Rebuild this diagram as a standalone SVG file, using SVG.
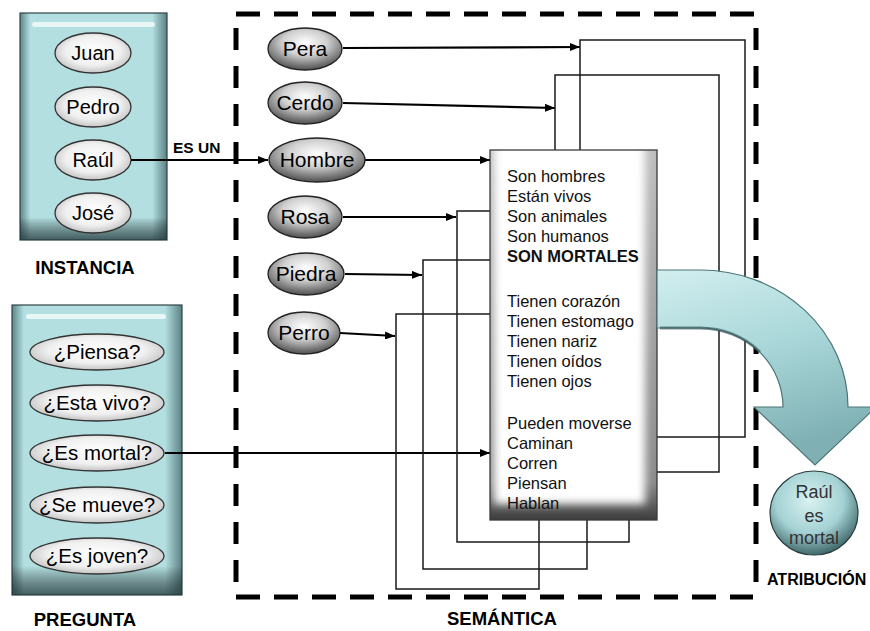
<svg xmlns="http://www.w3.org/2000/svg" width="870" height="631" viewBox="0 0 870 631">
<defs>
<style>
.lbl{font-family:"Liberation Sans",Arial,sans-serif;fill:#000}
.title{font-family:"Liberation Sans",Arial,sans-serif;font-weight:bold;fill:#000}
.conn{fill:none;stroke:#1a1a1a;stroke-width:1.5}
.arr{fill:none;stroke:#000;stroke-width:2.2}
.bl{fill:url(#blueH);stroke:#2e4446;stroke-width:1.2}
.wel{fill:url(#wEl);stroke:#333;stroke-width:1.3}
.gel{fill:url(#gEl);stroke:#222;stroke-width:1.3}
.list{font-family:"Liberation Sans",Arial,sans-serif;font-size:16.5px;fill:#111}
</style>
<marker id="ah" viewBox="0 0 10 8" refX="10" refY="4" markerWidth="10" markerHeight="8" markerUnits="userSpaceOnUse" orient="auto">
<path d="M0,0 L10,4 L0,8 z" fill="#000"/>
</marker>
<linearGradient id="blueH" x1="0" y1="0" x2="1" y2="0">
<stop offset="0" stop-color="#5f8588"/>
<stop offset="0.07" stop-color="#b3dfe1"/>
<stop offset="0.9" stop-color="#b3dfe1"/>
<stop offset="1" stop-color="#5b8083"/>
</linearGradient>
<linearGradient id="blueV" x1="0" y1="0" x2="0" y2="1">
<stop offset="0" stop-color="#000" stop-opacity="0"/>
<stop offset="0.9" stop-color="#000" stop-opacity="0"/>
<stop offset="1" stop-color="#1e3436" stop-opacity="0.75"/>
</linearGradient>
<radialGradient id="wEl" cx="0.5" cy="0.45" r="0.6">
<stop offset="0" stop-color="#ffffff"/>
<stop offset="0.6" stop-color="#f0f0f0"/>
<stop offset="1" stop-color="#b9b9b9"/>
</radialGradient>
<radialGradient id="gEl" cx="0.5" cy="0.35" r="0.75">
<stop offset="0" stop-color="#ffffff"/>
<stop offset="0.4" stop-color="#d0d0d0"/>
<stop offset="0.78" stop-color="#666"/>
<stop offset="1" stop-color="#2e2e2e"/>
</radialGradient>
<radialGradient id="circ" cx="0.45" cy="0.35" r="0.7">
<stop offset="0" stop-color="#d9f1f1"/>
<stop offset="0.55" stop-color="#a4d2d4"/>
<stop offset="1" stop-color="#2f5558"/>
</radialGradient>
<linearGradient id="arrowG" x1="0" y1="0" x2="0.3" y2="1">
<stop offset="0" stop-color="#d2eeef"/>
<stop offset="0.5" stop-color="#a9d7d9"/>
<stop offset="1" stop-color="#7fb0b3"/>
</linearGradient>
<linearGradient id="boxEdge" x1="0" y1="0" x2="0" y2="1">
<stop offset="0" stop-color="#bdbdbd"/>
<stop offset="0.9" stop-color="#8a8a8a"/>
<stop offset="1" stop-color="#3d3d3d"/>
</linearGradient>
<filter id="blur" x="-10%" y="-10%" width="120%" height="120%">
<feGaussianBlur stdDeviation="4"/>
</filter>
<clipPath id="boxClip"><rect x="490" y="150" width="167" height="370"/></clipPath>
</defs>

<rect width="870" height="631" fill="#fff"/>

<!-- SEMANTICA dashed frame -->
<g id="frame" fill="none" stroke="#000" stroke-width="5">
<line x1="236" y1="14" x2="757" y2="14" stroke-dasharray="24 14"/>
<line x1="236" y1="597" x2="753" y2="597" stroke-dasharray="24 14"/>
<line x1="236" y1="28" x2="236" y2="597" stroke-dasharray="22 16"/>
<line x1="756" y1="28" x2="756" y2="585" stroke-dasharray="22 16"/>
</g>

<!-- INSTANCIA -->
<g id="instancia">
<rect x="20" y="13" width="147" height="227" class="bl"/>
<rect x="20" y="13" width="147" height="227" fill="url(#blueV)"/>
<rect x="32" y="22" width="123" height="5" rx="2.5" fill="#fff" opacity="0.7"/>
<g id="juan"><ellipse cx="93" cy="53" rx="38" ry="20" class="wel"/><text x="93" y="60" font-size="20" text-anchor="middle" class="lbl">Juan</text></g>
<g id="pedro"><ellipse cx="93" cy="107" rx="38" ry="20" class="wel"/><text x="93" y="114" font-size="20" text-anchor="middle" class="lbl">Pedro</text></g>
<g id="raul"><ellipse cx="93" cy="160" rx="38" ry="20" class="wel"/><text x="93" y="167" font-size="20" text-anchor="middle" class="lbl">Raúl</text></g>
<g id="jose"><ellipse cx="93" cy="213" rx="38" ry="20" class="wel"/><text x="93" y="220" font-size="20" text-anchor="middle" class="lbl">José</text></g>
</g>
<text x="85" y="274" font-size="18.5" text-anchor="middle" class="title">INSTANCIA</text>

<!-- PREGUNTA -->
<g id="pregunta">
<rect x="12" y="305" width="170" height="290" class="bl"/>
<rect x="12" y="305" width="170" height="290" fill="url(#blueV)"/>
<rect x="26" y="314" width="140" height="5" rx="2.5" fill="#fff" opacity="0.7"/>
<g id="q1"><ellipse cx="97" cy="352" rx="67" ry="18" class="wel"/><text x="97" y="359" font-size="20.5" text-anchor="middle" class="lbl">¿Piensa?</text></g>
<g id="q2"><ellipse cx="97" cy="403" rx="67" ry="18" class="wel"/><text x="97" y="410" font-size="20.5" text-anchor="middle" class="lbl">¿Esta vivo?</text></g>
<g id="q3"><ellipse cx="97" cy="453" rx="67" ry="18" class="wel"/><text x="97" y="460" font-size="20.5" text-anchor="middle" class="lbl">¿Es mortal?</text></g>
<g id="q4"><ellipse cx="97" cy="505" rx="67" ry="18" class="wel"/><text x="97" y="512" font-size="20.5" text-anchor="middle" class="lbl">¿Se mueve?</text></g>
<g id="q5"><ellipse cx="97" cy="556" rx="67" ry="18" class="wel"/><text x="97" y="563" font-size="20.5" text-anchor="middle" class="lbl">¿Es joven?</text></g>
</g>
<text x="85" y="626" font-size="18.5" text-anchor="middle" class="title">PREGUNTA</text>

<!-- connectors -->
<g id="connectors">
<line x1="131" y1="160" x2="268" y2="160" class="arr" marker-end="url(#ah)"/>
<line x1="165" y1="453" x2="490" y2="453" class="arr" marker-end="url(#ah)"/>
<line x1="343" y1="48" x2="580" y2="47" class="arr" marker-end="url(#ah)"/>
<line x1="343" y1="103" x2="555" y2="108" class="arr" marker-end="url(#ah)"/>
<line x1="365" y1="160" x2="490" y2="160" class="arr" marker-end="url(#ah)"/>
<line x1="343" y1="217" x2="456" y2="217" class="arr" marker-end="url(#ah)"/>
<line x1="345" y1="274" x2="422" y2="275" class="arr" marker-end="url(#ah)"/>
<line x1="340" y1="333" x2="395" y2="336" class="arr" marker-end="url(#ah)"/>
<polyline points="580,150 580,40 745,40 745,437 657,437" class="conn"/>
<polyline points="555,150 555,75 719,75 719,472 657,472" class="conn"/>
<polyline points="490,211 457,211 457,542 629,542 629,520" class="conn"/>
<polyline points="490,260 423,260 423,569 587,569 587,520" class="conn"/>
<polyline points="490,314 396,314 396,589 539,589 539,520" class="conn"/>
</g>
<text x="173" y="153" font-size="15.5" class="title">ES UN</text>

<!-- semantic nodes -->
<g id="pera"><ellipse cx="305" cy="49" rx="37" ry="21" class="gel"/><text x="305" y="56" font-size="21" text-anchor="middle" class="lbl">Pera</text></g>
<g id="cerdo"><ellipse cx="305" cy="103" rx="37" ry="21" class="gel"/><text x="305" y="110" font-size="21" text-anchor="middle" class="lbl">Cerdo</text></g>
<g id="hombre"><ellipse cx="317" cy="160" rx="48" ry="22" class="gel"/><text x="317" y="167" font-size="21" text-anchor="middle" class="lbl">Hombre</text></g>
<g id="rosa"><ellipse cx="305" cy="217" rx="37" ry="21" class="gel"/><text x="305" y="224" font-size="21" text-anchor="middle" class="lbl">Rosa</text></g>
<g id="piedra"><ellipse cx="306" cy="274" rx="38" ry="21" class="gel"/><text x="306" y="281" font-size="21" text-anchor="middle" class="lbl">Piedra</text></g>
<g id="perro"><ellipse cx="304" cy="333" rx="36" ry="21" class="gel"/><text x="304" y="340" font-size="21" text-anchor="middle" class="lbl">Perro</text></g>

<!-- central attribute box -->
<g id="atributos">
<rect x="490" y="150" width="167" height="370" fill="url(#boxEdge)"/>
<g clip-path="url(#boxClip)">
<rect x="494" y="142" width="151" height="362" fill="#fff" filter="url(#blur)"/>
</g>
<rect x="490" y="150" width="167" height="370" fill="none" stroke="#3a3a3a" stroke-width="1.3"/>
<text class="list" x="507">
<tspan x="507" y="182">Son hombres</tspan>
<tspan x="507" y="202">Están vivos</tspan>
<tspan x="507" y="222">Son animales</tspan>
<tspan x="507" y="242">Son humanos</tspan>
<tspan x="507" y="262" font-weight="bold">SON MORTALES</tspan>
<tspan x="507" y="307">Tienen corazón</tspan>
<tspan x="507" y="327">Tienen estomago</tspan>
<tspan x="507" y="347">Tienen nariz</tspan>
<tspan x="507" y="367">Tienen oídos</tspan>
<tspan x="507" y="387">Tienen ojos</tspan>
<tspan x="507" y="429">Pueden moverse</tspan>
<tspan x="507" y="449">Caminan</tspan>
<tspan x="507" y="469">Corren</tspan>
<tspan x="507" y="489">Piensan</tspan>
<tspan x="507" y="509">Hablan</tspan>
</text>
</g>
<text x="502" y="625" font-size="18.5" text-anchor="middle" class="title">SEMÁNTICA</text>

<!-- attribution arrow -->
<g id="flecha">
<path d="M657,270 L700,270 A148,137 0 0 1 848,407 L876,407 L815,465 L754,407 L783,407 A83,79 0 0 0 700,328 L657,328 Z" fill="url(#arrowG)" stroke="#4d7578" stroke-width="1.2"/>
<path d="M660,328 L700,328 A83,79 0 0 1 760,352" fill="none" stroke="#2f4f52" stroke-width="3" opacity="0.6"/>
</g>

<!-- result -->
<g id="resultado">
<ellipse cx="814" cy="513" rx="44" ry="42" fill="url(#circ)" stroke="#2a3c3e" stroke-width="1.2"/>
<text x="814" y="498" font-size="18" text-anchor="middle" class="lbl" style="fill:#333">Raúl</text>
<text x="814" y="522" font-size="18" text-anchor="middle" class="lbl" style="fill:#333">es</text>
<text x="814" y="544" font-size="18" text-anchor="middle" class="lbl" style="fill:#333">mortal</text>
</g>
<text x="767" y="585" font-size="16" class="title">ATRIBUCIÓN</text>
</svg>
